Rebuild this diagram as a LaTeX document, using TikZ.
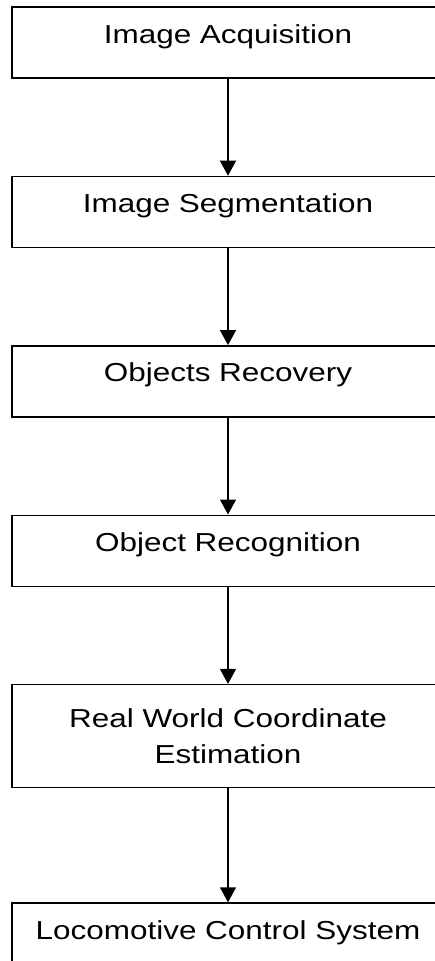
\documentclass[tikz,border=0pt]{standalone}
\usepackage{fontspec}
\setmainfont[FakeStretch=1.21]{Liberation Sans}
\usetikzlibrary{positioning, arrows.meta}

\begin{document}
\begin{tikzpicture}
	[x=1pt, y=1pt, node distance=97pt,
	 stage/.style={draw, line width=1.4pt, minimum width=432pt, inner sep=0pt,
	   text height=36pt, text depth=35pt, font=\fontsize{26}{36.7}\selectfont},
	 tallstage/.style={stage, text height=, text depth=, minimum height=103pt, align=center},
	 flow/.style={-{Triangle[width=16pt,length=15pt]}, line width=1.4pt}]
   \useasboundingbox (0,0) rectangle (434,-961);
   \node[stage] (acq) at (228,-42.5) {Image Acquisition};
   \node[stage] (seg) [below=of acq] {Image Segmentation};
   \node[stage] (rec) [below=of seg] {Objects Recovery};
   \node[stage] (recog) [below=of rec] {Object Recognition};
   \node[tallstage] (coord) [below=of recog] {Real World Coordinate\\Estimation};
   \node[stage] (loco) [below=114pt of coord] {Locomotive Control System};

   \path[flow]
    (acq) edge (seg)
    (seg) edge (rec)
    (rec) edge (recog)
    (recog) edge (coord)
    (coord) edge (loco);
\end{tikzpicture}
\end{document}
